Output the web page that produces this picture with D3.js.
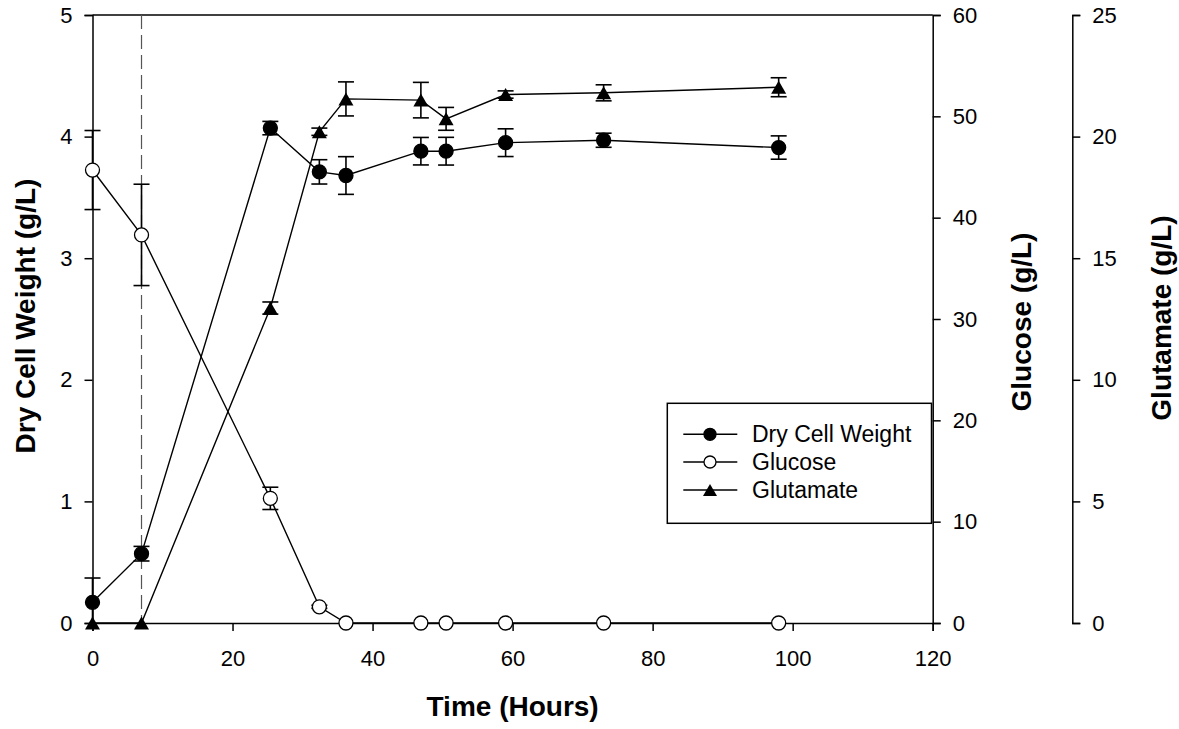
<!DOCTYPE html>
<html>
<head>
<meta charset="utf-8">
<script src="https://cdn.jsdelivr.net/npm/d3@7"></script>
<style>
	body { margin: 0; background: #fff; }
	svg { font-family: "Liberation Sans", Arial, sans-serif; }
</style>
</head>
<body>
<div id="chart"></div>
<script>
// sampling times (hours)
const times = [0, 7, 25.4, 32.4, 36.2, 46.9, 50.5, 59, 73, 98];

// dry cell weight, g/L (left axis)
const dcw = [0.17, 0.57, 4.07, 3.71, 3.68, 3.88, 3.88, 3.95, 3.97, 3.91];
const dcwErr = [0.2, 0.06, 0.055, 0.1, 0.155, 0.113, 0.114, 0.114, 0.058, 0.096];

// glucose, g/L (first right axis)
const glucose = [44.7, 38.3, 12.3, 1.6, 0, 0, 0, 0, 0, 0];
const glucoseErr = [3.9, 5.0, 1.1, 0.15, 0, 0, 0, 0, 0, 0];

// glutamate, g/L (second right axis)
const glutamate = [0, 0, 12.95, 20.2, 21.55, 21.5, 20.73, 21.73, 21.8, 22.03];
const glutamateErr = [0, 0, 0.25, 0.15, 0.7, 0.73, 0.47, 0.15, 0.33, 0.39];

// tick values
const xTicks = [0, 20, 40, 60, 80, 100, 120];
const dcwTicks = [0, 1, 2, 3, 4, 5];
const glucoseTicks = [0, 10, 20, 30, 40, 50, 60];
const glutamateTicks = [0, 5, 10, 15, 20, 25];

const inductionTime = 7;
const legendNames = ["Dry Cell Weight", "Glucose", "Glutamate"];

let width = 1179;
let height = 729;
let plot = { left: 92.5, right: 932.7, top: 15, bottom: 623 };

let svg = d3.select("#chart").append("svg")
	.attr("width", width)
	.attr("height", height);

let x = d3.scaleLinear().domain([0, 120]).range([plot.left, plot.right]);
let yDcw = d3.scaleLinear().domain([0, 5]).range([plot.bottom, plot.top]);
let yGlc = d3.scaleLinear().domain([0, 60]).range([plot.bottom, plot.top]);
let yGlu = d3.scaleLinear().domain([0, 25]).range([plot.bottom, plot.top]);

let fmt = d3.format("d");

function styleAxis(g) {
	g.selectAll("path, line").attr("stroke", "#000").attr("stroke-width", 1.5);
	g.selectAll("text").attr("fill", "#000").style("font-size", "22px")
		.style("font-family", "'Liberation Sans', Arial, sans-serif");
}

// top frame line
svg.append("line")
	.attr("x1", plot.left).attr("x2", plot.right)
	.attr("y1", plot.top).attr("y2", plot.top)
	.attr("stroke", "#000").attr("stroke-width", 1.5);

// induction marker
svg.append("line")
	.attr("x1", x(inductionTime)).attr("x2", x(inductionTime))
	.attr("y1", plot.top).attr("y2", plot.bottom)
	.attr("stroke", "#555").attr("stroke-width", 1.2)
	.attr("stroke-dasharray", "14,6");

svg.append("g")
	.attr("transform", "translate(0," + plot.bottom + ")")
	.call(d3.axisBottom(x).tickValues(xTicks).tickFormat(fmt).tickSize(8).tickSizeOuter(8).tickPadding(19))
	.call(styleAxis);

svg.append("g")
	.attr("transform", "translate(" + plot.left + ",0)")
	.call(d3.axisLeft(yDcw).tickValues(dcwTicks).tickFormat(fmt).tickSize(8).tickSizeOuter(8).tickPadding(12))
	.call(styleAxis);

svg.append("g")
	.attr("transform", "translate(" + plot.right + ",0)")
	.call(d3.axisRight(yGlc).tickValues(glucoseTicks).tickFormat(fmt).tickSize(8).tickSizeOuter(8).tickPadding(12))
	.call(styleAxis);

svg.append("g")
	.attr("transform", "translate(1072.3,0)")
	.call(d3.axisRight(yGlu).tickValues(glutamateTicks).tickFormat(fmt).tickSize(8).tickSizeOuter(8).tickPadding(12))
	.call(styleAxis);

// axis titles
function title(tx, ty, rot, txt) {
	svg.append("text")
		.attr("transform", "translate(" + tx + "," + ty + ") rotate(" + rot + ")")
		.attr("text-anchor", "middle")
		.style("font-size", "28px")
		.style("font-weight", "bold")
		.text(txt);
}
title(512.6, 716, 0, "Time (Hours)");
title(35, 316, -90, "Dry Cell Weight (g/L)");
title(1031, 322, -90, "Glucose (g/L)");
title(1171, 318, -90, "Glutamate (g/L)");

// triangle with its box centred on the point
function triPath(cx, cy, w, h) {
	return "M" + cx + "," + (cy - h / 2) + "L" + (cx + w / 2) + "," + (cy + h / 2) + "L" + (cx - w / 2) + "," + (cy + h / 2) + "Z";
}

let series = [
	{ vals: dcw, errs: dcwErr, y: yDcw, marker: "filled" },
	{ vals: glucose, errs: glucoseErr, y: yGlc, marker: "open" },
	{ vals: glutamate, errs: glutamateErr, y: yGlu, marker: "triangle" }
];

series.forEach(s => {
	let pts = times.map((t, i) => ({ t: t, v: s.vals[i], e: s.errs[i] }));
	let g = svg.append("g");

	g.append("path")
		.datum(pts)
		.attr("fill", "none")
		.attr("stroke", "#000")
		.attr("stroke-width", 1.4)
		.attr("d", d3.line().x(d => x(d.t)).y(d => s.y(d.v)));

	// error bars, clipped at the zero line
	let eb = pts.filter(d => d.e > 0);
	eb.forEach(d => {
		let hi = s.y(d.v + d.e);
		let lo = s.y(Math.max(0, d.v - d.e));
		let cx = x(d.t);
		g.append("line").attr("x1", cx).attr("x2", cx).attr("y1", hi).attr("y2", lo)
			.attr("stroke", "#000").attr("stroke-width", 1.6);
		g.append("line").attr("x1", cx - 8).attr("x2", cx + 8).attr("y1", hi).attr("y2", hi)
			.attr("stroke", "#000").attr("stroke-width", 1.6);
		if (d.v - d.e >= 0) {
			g.append("line").attr("x1", cx - 8).attr("x2", cx + 8).attr("y1", lo).attr("y2", lo)
				.attr("stroke", "#000").attr("stroke-width", 1.6);
		}
	});

	if (s.marker === "triangle") {
		g.selectAll("path.m").data(pts).enter().append("path")
			.attr("class", "m")
			.attr("d", d => triPath(x(d.t), s.y(d.v), 15, 13))
			.attr("fill", "#000");
	} else {
		g.selectAll("circle").data(pts).enter().append("circle")
			.attr("cx", d => x(d.t))
			.attr("cy", d => s.y(d.v))
			.attr("r", 7)
			.attr("fill", s.marker === "filled" ? "#000" : "#fff")
			.attr("stroke", "#000")
			.attr("stroke-width", 1.3);
	}
});

// legend
let legend = svg.append("g");
legend.append("rect")
	.attr("x", 667.3).attr("y", 403.3)
	.attr("width", 931.5 - 667.3).attr("height", 120)
	.attr("fill", "#fff").attr("stroke", "#000").attr("stroke-width", 1.5);

let rowY = [434.3, 462, 490];
legendNames.forEach((name, i) => {
	let ry = rowY[i];
	legend.append("line").attr("x1", 683.3).attr("x2", 737.3).attr("y1", ry).attr("y2", ry)
		.attr("stroke", "#000").attr("stroke-width", 1.4);
	if (i === 2) {
		legend.append("path").attr("d", triPath(710, ry, 14, 12)).attr("fill", "#000");
	} else {
		legend.append("circle").attr("cx", 710).attr("cy", ry).attr("r", 6)
			.attr("fill", i === 0 ? "#000" : "#fff")
			.attr("stroke", "#000").attr("stroke-width", 1.3);
	}
	legend.append("text")
		.attr("x", 752).attr("y", ry)
		.attr("dy", "0.35em")
		.style("font-size", "23px")
		.text(name);
});
</script>
</body>
</html>
